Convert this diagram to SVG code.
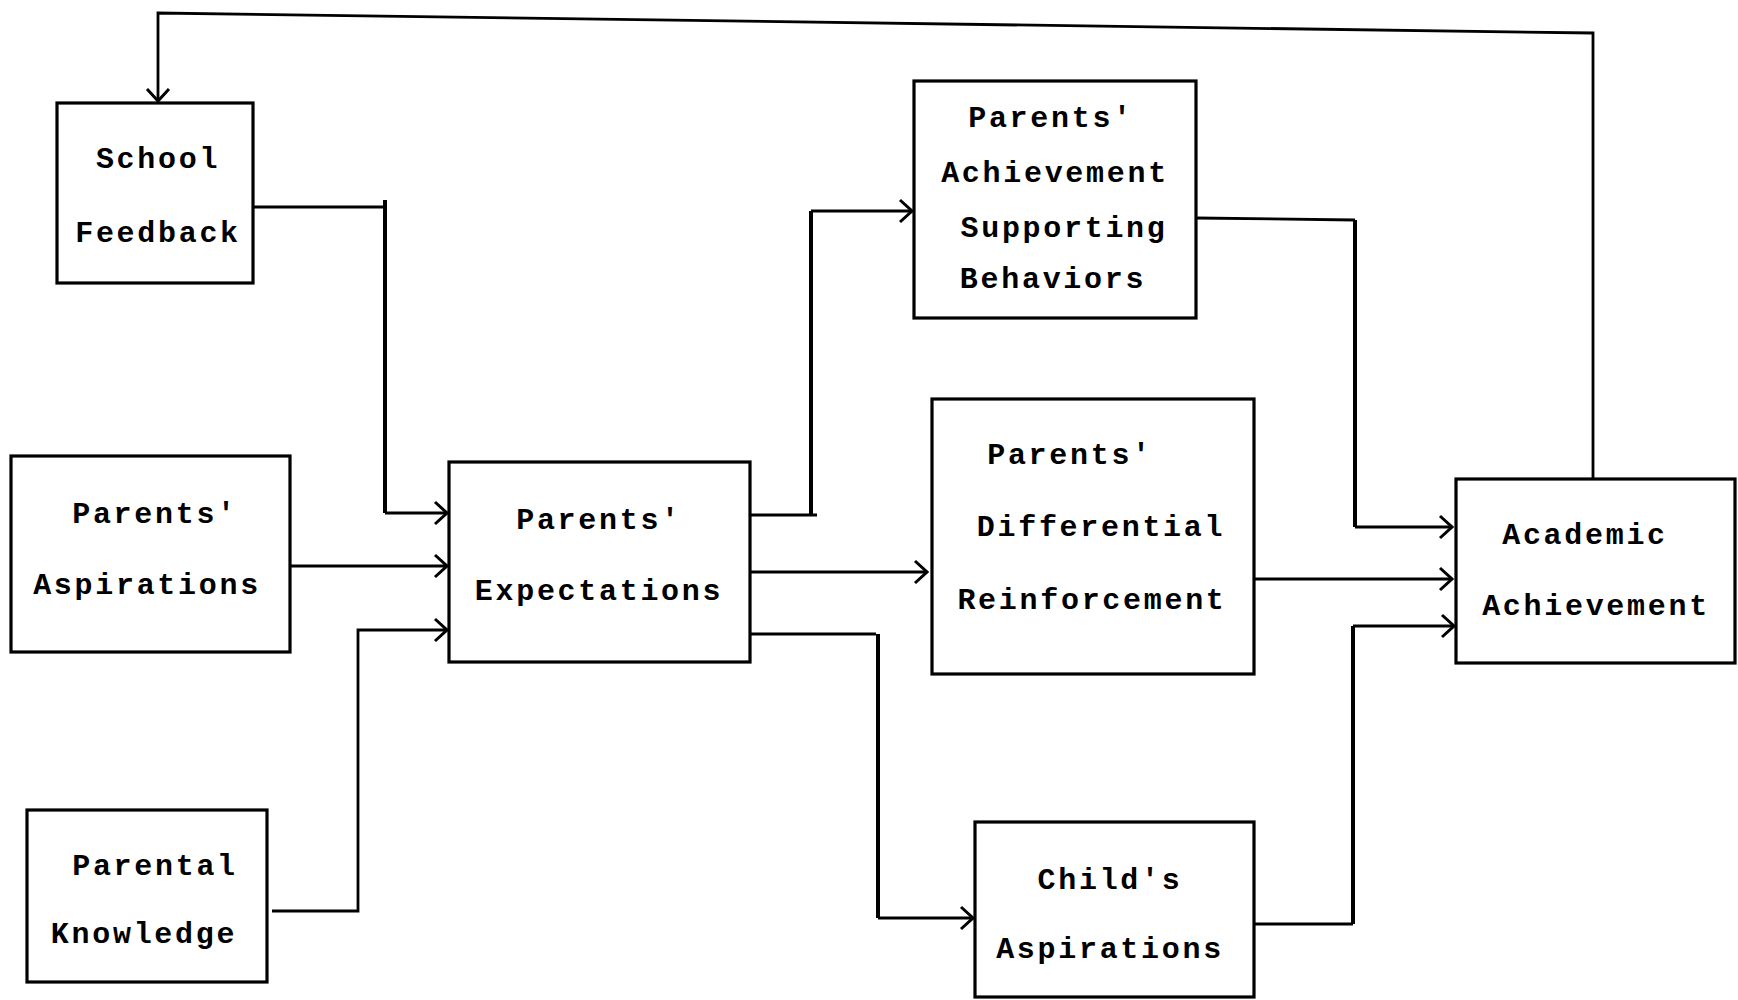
<svg xmlns="http://www.w3.org/2000/svg" width="1738" height="1000" viewBox="0 0 1738 1000">
<style>
.box{fill:#fff;stroke:#000;stroke-width:3.2}
.t{font-family:"Liberation Mono","DejaVu Sans Mono",monospace;font-weight:bold;font-size:30px;letter-spacing:2.7px;text-anchor:middle;fill:#000}
.c{fill:none;stroke:#000;stroke-width:2.8;stroke-linejoin:miter}
.v{fill:none;stroke:#000;stroke-width:4}
</style>
<defs>
<marker id="arr" markerUnits="userSpaceOnUse" viewBox="0 0 16 26" markerWidth="16" markerHeight="26" refX="14" refY="13" orient="auto">
<path d="M2,2 L14,13 L2,24" fill="none" stroke="#000" stroke-width="3"/>
</marker>
</defs>
<rect width="1738" height="1000" fill="#fff"/>
<g id="connectors">
<polyline class="c" points="1593,479 1593,33 158,13 158,101" marker-end="url(#arr)"/>
<polyline class="c" points="253,207 385,207"/>
<polyline class="v" points="385,200 385,513"/>
<polyline class="c" points="385,513 447,513" marker-end="url(#arr)"/>
<polyline class="c" points="290,566 447,566" marker-end="url(#arr)"/>
<polyline class="c" points="272,911 358,911 358,630 447,630" marker-end="url(#arr)"/>
<polyline class="c" points="750,515 817,515"/>
<polyline class="v" points="811,515 811,211"/>
<polyline class="c" points="811,211 912,211" marker-end="url(#arr)"/>
<polyline class="c" points="750,572 927,572" marker-end="url(#arr)"/>
<polyline class="c" points="750,634 876,634"/>
<polyline class="v" points="878,634 878,918"/>
<polyline class="c" points="878,918 973,918" marker-end="url(#arr)"/>
<polyline class="c" points="1196,218 1355,220"/>
<polyline class="v" points="1355,220 1355,527"/>
<polyline class="c" points="1355,527 1452,527" marker-end="url(#arr)"/>
<polyline class="c" points="1254,579 1452,579" marker-end="url(#arr)"/>
<polyline class="c" points="1254,924 1353,924"/>
<polyline class="v" points="1353,924 1353,626"/>
<polyline class="c" points="1353,626 1454,626" marker-end="url(#arr)"/>
</g>
<g id="school-feedback">
<rect class="box" x="57" y="103" width="196" height="180"/>
<text class="t" x="158" y="168">School</text>
<text class="t" x="158" y="242">Feedback</text>
</g>
<g id="parents-aspirations">
<rect class="box" x="11" y="456" width="279" height="196"/>
<text class="t" x="155" y="523">Parents'</text>
<text class="t" x="147" y="594">Aspirations</text>
</g>
<g id="parental-knowledge">
<rect class="box" x="27" y="810" width="240" height="172"/>
<text class="t" x="155" y="875">Parental</text>
<text class="t" x="144" y="943">Knowledge</text>
</g>
<g id="parents-expectations">
<rect class="box" x="449" y="462" width="301" height="200"/>
<text class="t" x="599" y="529">Parents'</text>
<text class="t" x="599" y="600">Expectations</text>
</g>
<g id="parents-achievement-supporting-behaviors">
<rect class="box" x="914" y="81" width="282" height="237"/>
<text class="t" x="1051" y="127">Parents'</text>
<text class="t" x="1055" y="182">Achievement</text>
<text class="t" x="1064" y="237">Supporting</text>
<text class="t" x="1053" y="288">Behaviors</text>
</g>
<g id="parents-differential-reinforcement">
<rect class="box" x="932" y="399" width="322" height="275"/>
<text class="t" x="1070" y="464">Parents'</text>
<text class="t" x="1101" y="536">Differential</text>
<text class="t" x="1092" y="609">Reinforcement</text>
</g>
<g id="childs-aspirations">
<rect class="box" x="975" y="822" width="279" height="175"/>
<text class="t" x="1110" y="889">Child's</text>
<text class="t" x="1110" y="958">Aspirations</text>
</g>
<g id="academic-achievement">
<rect class="box" x="1456" y="479" width="279" height="184"/>
<text class="t" x="1585" y="544">Academic</text>
<text class="t" x="1596" y="615">Achievement</text>
</g>
</svg>
